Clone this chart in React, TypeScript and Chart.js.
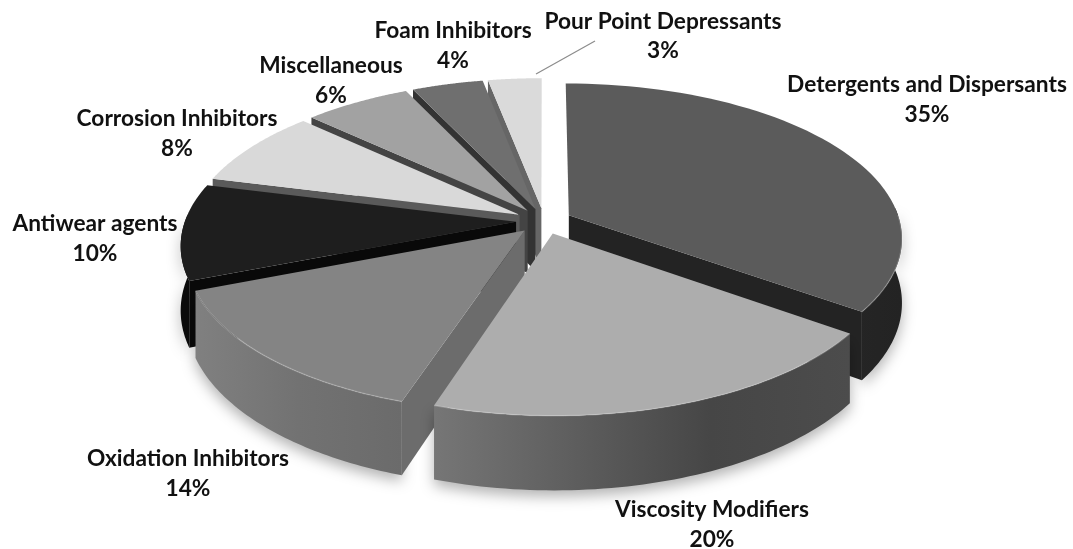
import React, { useEffect, useRef } from "react";
import { Chart, registerables } from "chart.js";

Chart.register(...registerables);

const categories = [
  "Detergents and Dispersants",
  "Viscosity Modifiers",
  "Oxidation Inhibitors",
  "Antiwear agents",
  "Corrosion Inhibitors",
  "Miscellaneous",
  "Foam Inhibitors",
  "Pour Point Depressants",
];
const shares = [35, 20, 14, 10, 8, 6, 4, 3];

const topColors = ["#5b5b5b", "#adadad", "#848484", "#1e1e1e", "#d9d9d9", "#a2a2a2", "#6f6f6f", "#dadada"];
const cutColors = ["#232323", "#6a6a6a", "#6c6c6c", "#090909", "#5a5a5a", "#444444", "#333333", "#666666"];
const wallStops = [
  ["#232323", "#2a2a2a", "#232323"],
  ["#767676", "#5e5e5e", "#464646", "#4c4c4c"],
  ["#808080", "#727272", "#6b6b6b"],
  ["#0b0b0b", "#0b0b0b"],
  ["#7a7a7a", "#7a7a7a"],
  ["#6a6a6a", "#6a6a6a"],
  ["#555555", "#555555"],
  ["#8a8a8a", "#8a8a8a"],
];
// centre of each label's two lines: [x, y of name, y of percentage]
const labelAnchors = [
  [927, 85, 115],
  [712, 510, 540],
  [188, 459, 489],
  [95, 224, 254],
  [177, 119, 149],
  [331, 66, 96],
  [453, 31, 61],
  [663, 22, 51],
];

const RADIUS = 331;
const EXPLODE = 28;
const TILT = 0.46;
const EYE = 2300;
const THICKNESS = 63;
const STEPS = 60;

const pie3d = {
  id: "pie3d",
  beforeDatasetDraw() {
    return false;
  },
  beforeDatasetsDraw(chart: any) {
    const { ctx } = chart;
    const arcs = chart.getDatasetMeta(0).data as any[];

    const project = (a: any, ang: number, r: number, z: number) => {
      const h = (a.startAngle + a.endAngle) / 2;
      const d = a.options.offset;
      const X = Math.cos(ang) * r + Math.cos(h) * d;
      const Y = Math.sin(ang) * r + Math.sin(h) * d;
      const f = 1 / (1 - Y / EYE);
      return [a.x + X * f, a.y + (TILT * Y + z) * f];
    };
    const rim = (a: any, from: number, to: number, z: number) => {
      const pts: number[][] = [];
      for (let i = 0; i <= STEPS; i++) pts.push(project(a, from + ((to - from) * i) / STEPS, a.outerRadius, z));
      return pts;
    };
    const fillPoly = (pts: number[][]) => {
      ctx.beginPath();
      pts.forEach((p, i) => (i ? ctx.lineTo(p[0], p[1]) : ctx.moveTo(p[0], p[1])));
      ctx.closePath();
      ctx.fill();
    };

    const order = arcs
      .map((a, i) => ({ a, i, depth: Math.sin((a.startAngle + a.endAngle) / 2) }))
      .sort((p, q) => p.depth - q.depth);

    ctx.save();
    ctx.lineJoin = "round";
    // walls, far slices first
    for (const { a, i } of order) {
      const s = a.startAngle;
      const e = a.endAngle;
      const top = rim(a, s, e, 0);
      const bottom = rim(a, s, e, THICKNESS).reverse();
      const xs = top.map((p) => p[0]);
      const g = ctx.createLinearGradient(Math.min(...xs), 0, Math.max(...xs), 0);
      wallStops[i].forEach((c, k) => g.addColorStop(k / (wallStops[i].length - 1), c));
      const from = Math.max(s, Math.min(e, -0.05));
      const to = Math.min(e, Math.PI + 0.05);
      ctx.save();
      if (to > from) {
        ctx.shadowColor = "rgba(0,0,0,0.3)";
        ctx.shadowBlur = 14;
        ctx.shadowOffsetY = 6;
        ctx.fillStyle = g;
        fillPoly([...rim(a, from, to, 0), ...rim(a, from, to, THICKNESS).reverse()]);
      }
      ctx.restore();
      ctx.fillStyle = cutColors[i];
      const apexTop = project(a, 0, 0, 0);
      const apexBottom = project(a, 0, 0, THICKNESS);
      if (-Math.cos(s) > 0) fillPoly([apexTop, top[0], bottom[bottom.length - 1], apexBottom]);
      if (Math.cos(e) > 0) fillPoly([apexTop, top[top.length - 1], bottom[0], apexBottom]);
    }
    // top faces
    arcs.forEach((a) => {
      ctx.fillStyle = a.options.backgroundColor;
      fillPoly([project(a, 0, 0, 0), ...rim(a, a.startAngle, a.endAngle, 0)]);
    });
    // bevel highlight along the front rim
    arcs.forEach((a, i) => {
      if (i > 2) return;
      const from = Math.max(a.startAngle, 0);
      const to = Math.min(a.endAngle, Math.PI);
      if (to <= from) return;
      ctx.strokeStyle = "rgba(255,255,255,0.2)";
      ctx.lineWidth = 1.5;
      ctx.beginPath();
      rim(a, from, to, 0).forEach((p, k) => (k ? ctx.lineTo(p[0], p[1]) : ctx.moveTo(p[0], p[1])));
      ctx.stroke();
    });
    ctx.restore();
  },
  afterDatasetsDraw(chart: any) {
    const { ctx } = chart;
    ctx.save();
    ctx.strokeStyle = "#8c8c8c";
    ctx.lineWidth = 1.2;
    ctx.beginPath();
    ctx.moveTo(536, 74);
    ctx.lineTo(595, 41);
    ctx.stroke();
    ctx.fillStyle = "#111111";
    ctx.font = 'bold 22.7px Lato, "Open Sans", sans-serif';
    ctx.textAlign = "center";
    ctx.textBaseline = "middle";
    categories.forEach((name, i) => {
      const [x, y1, y2] = labelAnchors[i];
      ctx.fillText(name, x, y1);
      ctx.fillText(`${shares[i]}%`, x, y2);
    });
    ctx.restore();
  },
};

export default function App() {
  const ref = useRef<HTMLCanvasElement>(null);
  useEffect(() => {
    const chart = new Chart(ref.current as HTMLCanvasElement, {
      type: "pie",
      data: {
        labels: categories,
        datasets: [
          {
            data: shares,
            backgroundColor: topColors,
            borderWidth: 0,
            offset: EXPLODE,
            radius: RADIUS,
          } as any,
        ],
      },
      options: {
        responsive: false,
        animation: false,
        radius: RADIUS,
        layout: { padding: { left: 15, top: 0, right: 0, bottom: 107 } },
        plugins: { legend: { display: false }, tooltip: { enabled: false } },
        events: [],
      } as any,
      plugins: [pie3d as any],
    });
    return () => chart.destroy();
  }, []);
  return (
    <canvas
      ref={ref}
      width={1073}
      height={549}
      style={{ position: "absolute", left: 0, top: 0, display: "block", background: "#ffffff" }}
    />
  );
}
